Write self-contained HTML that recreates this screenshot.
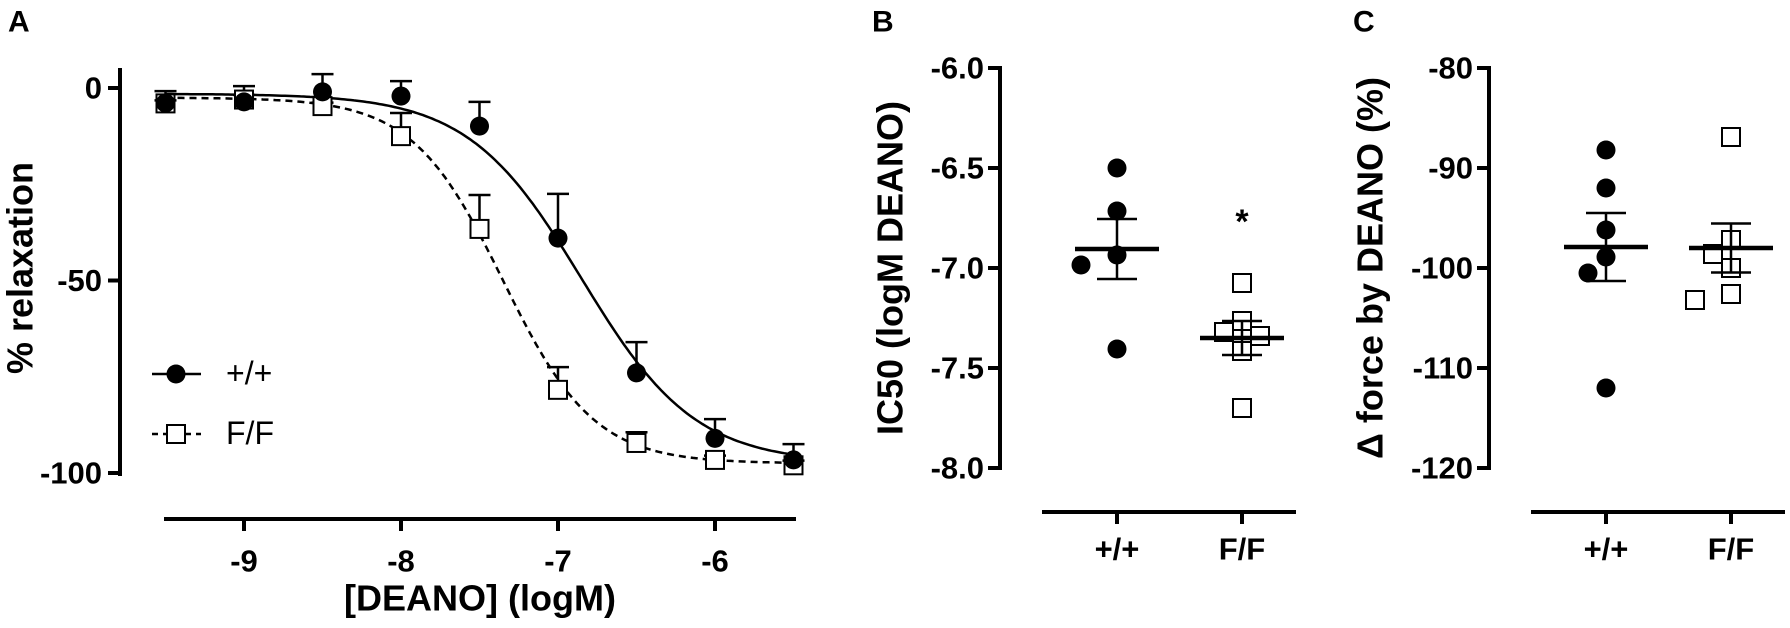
<!DOCTYPE html>
<html><head><meta charset="utf-8"><style>
html,body{margin:0;padding:0;background:#fff}
svg{display:block}
text{font-family:"Liberation Sans",Arial,sans-serif}
</style></head><body>
<svg id="fig" width="1790" height="628" viewBox="0 0 1790 628" xmlns="http://www.w3.org/2000/svg"></svg>
<script>
// Panel A data
const doses = [-9.5, -9, -8.5, -8, -7.5, -7, -6.5, -6, -5.5];
const wtMean = [-3.9, -3.6, -1, -2.1, -9.9, -39, -74, -91, -96.6];
const wtErrEnd = [-0.8, 0.5, 3.6, 1.8, -3.6, -27.5, -66, -86, -92.5];
const ffMean = [-4, -3, -4.7, -12.5, -36.6, -78.4, -92.2, -96.6, -98];
const ffErrEnd = [-3.2, -1.8, -3.8, -6.5, -27.8, -72.5, -89.4, -95.5, -96.8];
const wtFit = {top: -1.5, bottom: -97.5, logIC50: -6.85, hill: 1.2};
const ffFit = {top: -2.5, bottom: -97.5, logIC50: -7.35, hill: 1.5};
const xTicksA = [-9, -8, -7, -6];
const yTicksA = [0, -50, -100];
// Panel B data
const groups = ["+/+", "F/F"];
const ic50Wt = [-6.5, -6.715, -6.935, -6.985, -7.405];
const ic50Ff = [-7.075, -7.265, -7.32, -7.34, -7.415, -7.70];
const ic50MeanWt = -6.905, ic50SemWt = 0.15;
const ic50MeanFf = -7.35, ic50SemFf = 0.085;
const yTicksB = [-6.0, -6.5, -7.0, -7.5, -8.0];
// Panel C data
const forceWt = [-88.2, -92, -96.2, -98.9, -100.5, -112];
const forceFf = [-86.9, -97.2, -98.6, -100, -102.6, -103.2];
const forceMeanWt = -97.9, forceSemWt = 3.4;
const forceMeanFf = -98.0, forceSemFf = 2.45;
const yTicksC = [-80, -90, -100, -110, -120];

const NS = "http://www.w3.org/2000/svg";
const svg = document.getElementById("fig");
function mk(tag, attrs, parent) {
  const e = document.createElementNS(NS, tag);
  for (const k in attrs) e.setAttribute(k, attrs[k]);
  (parent || svg).appendChild(e);
  return e;
}
function txt(s, x, y, size, weight, anchor, parent, rot) {
  const t = mk("text", {x: x, y: y, "font-size": size, "font-weight": weight, "text-anchor": anchor, "dominant-baseline": "central", fill: "#000"}, parent);
  if (rot) t.setAttribute("transform", "rotate(-90 " + x + " " + y + ")");
  t.textContent = s;
  return t;
}
function circ(x, y, parent) { return mk("circle", {cx: x, cy: y, r: 9.5, fill: "#000"}, parent); }
function sq(x, y, parent) { return mk("rect", {x: x - 9, y: y - 9, width: 18, height: 18, fill: "#fff", stroke: "#000", "stroke-width": 2}, parent); }

// ---------- Panel A ----------
const gA = mk("g", {});


const xA = v => 244 + (v + 9) * 157;
const yA = v => 88 - v * 3.85;
let t = txt("A", 8, 22, 30, "bold", "start", gA);


let ax = mk("path", {d: "M120 68 V476 M164 519 H796", stroke: "#000", "stroke-width": 4, fill: "none"}, gA);


yTicksA.forEach(v => {
  mk("line", {x1: 108, x2: 122, y1: yA(v), y2: yA(v), stroke: "#000", "stroke-width": 4}, gA);
  const l = txt(String(v), 102, yA(v), 31, "bold", "end", gA);
  
  
});
xTicksA.forEach(v => {
  mk("line", {x1: xA(v), x2: xA(v), y1: 517, y2: 531, stroke: "#000", "stroke-width": 4}, gA);
  const l = txt(String(v), xA(v), 561, 31, "bold", "middle", gA);
  
  
});
t = txt("% relaxation", 20, 268, 36, "bold", "middle", gA, true);


t = txt("[DEANO] (logM)", 480, 598, 36, "bold", "middle", gA);


function curve(f, dash, name) {
  let d = "";
  for (let i = 0; i <= 200; i++) {
    const x = -9.5 + 4 * i / 200;
    const y = f.top + (f.bottom - f.top) / (1 + Math.pow(10, (f.logIC50 - x) * f.hill));
    d += (i ? "L" : "M") + xA(x).toFixed(1) + " " + yA(y).toFixed(1);
  }
  const p = mk("path", {d: d, fill: "none", stroke: "#000", "stroke-width": 2.5}, gA);
  if (dash) p.setAttribute("stroke-dasharray", "7 5");
  
  
}
curve(wtFit, false, "fit-curve-wt");
curve(ffFit, true, "fit-curve-ff");
function errbar(x, m, e) {
  mk("path", {d: "M" + x + " " + yA(m) + " V" + yA(e) + " M" + (x - 11) + " " + yA(e) + " H" + (x + 11), stroke: "#000", "stroke-width": 2.5, fill: "none"}, gA);
}
doses.forEach((d, i) => { errbar(xA(d), ffMean[i], ffErrEnd[i]); });
doses.forEach((d, i) => { errbar(xA(d), wtMean[i], wtErrEnd[i]); });
doses.forEach((d, i) => {
  const s = sq(xA(d), yA(ffMean[i]), gA);
  
  
});
doses.forEach((d, i) => {
  const c = circ(xA(d), yA(wtMean[i]), gA);
  
  
});
// legend
const lg = mk("g", {}, gA);


mk("line", {x1: 152, x2: 201, y1: 374, y2: 374, stroke: "#000", "stroke-width": 2.5}, lg);
circ(176, 374, lg);
t = txt("+/+", 226, 373, 32, "normal", "start", lg);


mk("line", {x1: 152, x2: 201, y1: 434, y2: 434, stroke: "#000", "stroke-width": 2.5, "stroke-dasharray": "6 5"}, lg);
sq(176, 434, lg);
t = txt("F/F", 226, 433, 32, "normal", "start", lg);



// ---------- Dot plots ----------
function swarm(vals, yf, cx) {
  const placed = [];
  const order = vals.map((v, i) => i).sort((a, b) => vals[b] - vals[a]);
  const res = [];
  order.forEach(i => {
    const y = yf(vals[i]);
    for (const o of [0, -18, 18, -36, 36]) {
      const ok = placed.every(p => Math.hypot(p[0] - (cx + o), p[1] - y) >= 21);
      if (ok) { placed.push([cx + o, y]); res[i] = [cx + o, y]; break; }
    }
  });
  return res;
}
function dotPanel(cfg) {
  const g = mk("g", {});
  
  
  const yf = v => 68 + (cfg.yTop - v) / (cfg.yTop - cfg.yBot) * 400;
  const cx = [cfg.ax + 117, cfg.ax + 242];
  let l = txt(cfg.letter, cfg.letterX, 22, 30, "bold", "start", g);
  
  
  const a = mk("path", {d: "M" + cfg.ax + " 66 V470 M" + (cfg.ax + 42) + " 512 H" + (cfg.ax + 296), stroke: "#000", "stroke-width": 4, fill: "none"}, g);
  
  
  cfg.ticks.forEach(v => {
    mk("line", {x1: cfg.ax - 12, x2: cfg.ax + 2, y1: yf(v), y2: yf(v), stroke: "#000", "stroke-width": 4}, g);
    const tl = txt(cfg.fmt(v), cfg.ax - 16, yf(v), 31, "bold", "end", g);
    
    
  });
  groups.forEach((gname, k) => {
    mk("line", {x1: cx[k], x2: cx[k], y1: 510, y2: 524, stroke: "#000", "stroke-width": 4}, g);
    const tl = txt(gname, cx[k], 549, 31, "bold", "middle", g);
    
    
  });
  const yt = txt(cfg.title, cfg.titleX, 268, 36, "bold", "middle", g, true);
  
  
  [cfg.wt, cfg.ff].forEach((vals, k) => {
    swarm(vals, yf, cx[k]).forEach(p => {
      const m = k === 0 ? circ(p[0], p[1], g) : sq(p[0], p[1], g);
      
      
    });
  });
  [[cfg.mWt, cfg.sWt], [cfg.mFf, cfg.sFf]].forEach((ms, k) => {
    const x = cx[k], m = ms[0], s = ms[1];
    const e = mk("path", {d: "M" + x + " " + yf(m + s) + " V" + yf(m - s) + " M" + (x - 20) + " " + yf(m + s) + " H" + (x + 20) + " M" + (x - 20) + " " + yf(m - s) + " H" + (x + 20), stroke: "#000", "stroke-width": 2.5, fill: "none"}, g);
    
    
    const ml = mk("line", {x1: x - 42, x2: x + 42, y1: yf(m), y2: yf(m), stroke: "#000", "stroke-width": 4.5}, g);
    
    
  });
  return {g: g, cx: cx, yf: yf};
}
const pB = dotPanel({name: "panel-b", letter: "B", letterX: 872, ax: 1000, yTop: -6, yBot: -8, ticks: yTicksB,
  fmt: v => v.toFixed(1), title: "IC50 (logM DEANO)", titleX: 890,
  wt: ic50Wt, ff: ic50Ff, mWt: ic50MeanWt, sWt: ic50SemWt, mFf: ic50MeanFf, sFf: ic50SemFf});
const star = txt("*", pB.cx[1], 222, 34, "bold", "middle", pB.g);


dotPanel({name: "panel-c", letter: "C", letterX: 1353, ax: 1489, yTop: -80, yBot: -120, ticks: yTicksC,
  fmt: v => String(v), title: "\u0394 force by DEANO (%)", titleX: 1370,
  wt: forceWt, ff: forceFf, mWt: forceMeanWt, sWt: forceSemWt, mFf: forceMeanFf, sFf: forceSemFf});
</script>
</body></html>
